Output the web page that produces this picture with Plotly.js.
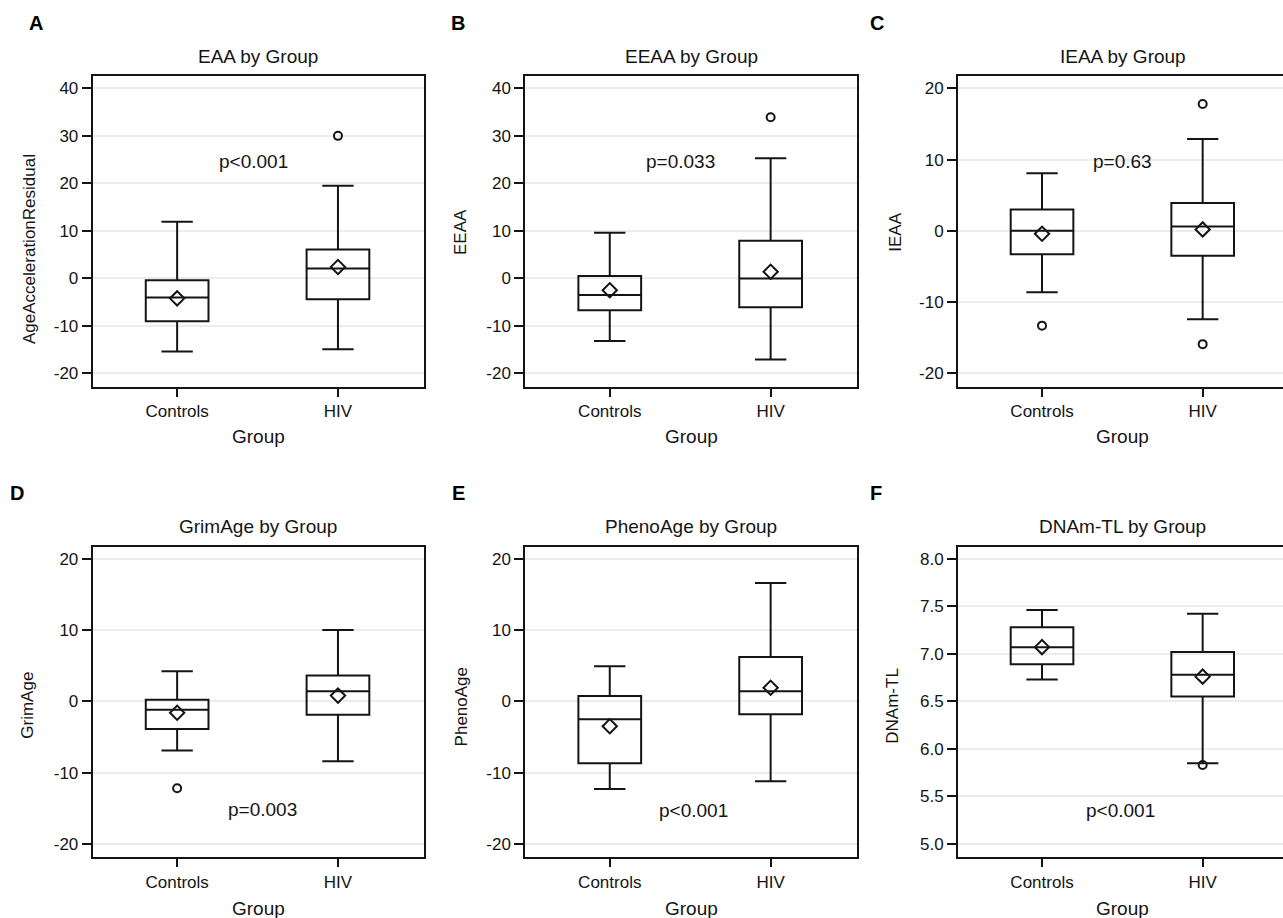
<!DOCTYPE html>
<html>
<head>
<meta charset="utf-8">
<script src="https://cdn.plot.ly/plotly-3.0.1.min.js"></script>
<style>html,body{margin:0;padding:0;background:#fff;}#chart{width:1283px;height:918px;}</style>
</head>
<body>
<div id="chart"></div>
<script>
// ---------- data ----------
const groups = ['Controls', 'HIV'];

// A: EAA
const eaaQ1 = [-9.0, -4.4];
const eaaMedian = [-4.0, 2.1];
const eaaQ3 = [-0.4, 6.1];
const eaaLow = [-15.4, -14.9];
const eaaHigh = [11.9, 19.5];
const eaaMean = [-4.2, 2.4];
const eaaOutGroup = ['HIV'];
const eaaOutValue = [30.0];

// B: EEAA
const eeaaQ1 = [-6.7, -6.1];
const eeaaMedian = [-3.5, 0.0];
const eeaaQ3 = [0.5, 7.9];
const eeaaLow = [-13.2, -17.1];
const eeaaHigh = [9.6, 25.3];
const eeaaMean = [-2.5, 1.4];
const eeaaOutGroup = ['HIV'];
const eeaaOutValue = [33.9];

// C: IEAA
const ieaaQ1 = [-3.3, -3.5];
const ieaaMedian = [0.0, 0.6];
const ieaaQ3 = [3.0, 3.9];
const ieaaLow = [-8.6, -12.4];
const ieaaHigh = [8.1, 12.9];
const ieaaMean = [-0.4, 0.2];
const ieaaOutGroup = ['Controls', 'HIV', 'HIV'];
const ieaaOutValue = [-13.3, 17.8, -15.9];

// D: GrimAge
const grimQ1 = [-3.9, -1.9];
const grimMedian = [-1.2, 1.4];
const grimQ3 = [0.2, 3.6];
const grimLow = [-6.9, -8.4];
const grimHigh = [4.2, 10.0];
const grimMean = [-1.6, 0.8];
const grimOutGroup = ['Controls'];
const grimOutValue = [-12.2];

// E: PhenoAge
const phenoQ1 = [-8.7, -1.8];
const phenoMedian = [-2.5, 1.4];
const phenoQ3 = [0.75, 6.2];
const phenoLow = [-12.3, -11.2];
const phenoHigh = [4.9, 16.6];
const phenoMean = [-3.5, 1.9];
const phenoOutGroup = [];
const phenoOutValue = [];

// F: DNAm-TL
const tlQ1 = [6.89, 6.55];
const tlMedian = [7.07, 6.78];
const tlQ3 = [7.28, 7.02];
const tlLow = [6.73, 5.85];
const tlHigh = [7.46, 7.42];
const tlMean = [7.07, 6.76];
const tlOutGroup = ['HIV'];
const tlOutValue = [5.83];

// tick labels (hyphen minus as in the original)
const ticksWideVals = [-20, -10, 0, 10, 20, 30, 40];
const ticksWideText = ['-20', '-10', '0', '10', '20', '30', '40'];
const ticksNarrowVals = [-20, -10, 0, 10, 20];
const ticksNarrowText = ['-20', '-10', '0', '10', '20'];
const ticksTLVals = [5.0, 5.5, 6.0, 6.5, 7.0, 7.5, 8.0];
const ticksTLText = ['5.0', '5.5', '6.0', '6.5', '7.0', '7.5', '8.0'];

const panelLetters = ['A', 'B', 'C', 'D', 'E', 'F'];
const panelTitles = ['EAA by Group', 'EEAA by Group', 'IEAA by Group', 'GrimAge by Group', 'PhenoAge by Group', 'DNAm-TL by Group'];
const yTitles = ['AgeAccelerationResidual', 'EEAA', 'IEAA', 'GrimAge', 'PhenoAge', 'DNAm-TL'];
const xTitle = 'Group';
const pTexts = ['p<0.001', 'p=0.033', 'p=0.63', 'p=0.003', 'p<0.001', 'p<0.001'];

const panels = [
  {q1: eaaQ1, med: eaaMedian, q3: eaaQ3, lo: eaaLow, hi: eaaHigh, mean: eaaMean, og: eaaOutGroup, ov: eaaOutValue, tv: ticksWideVals, tt: ticksWideText},
  {q1: eeaaQ1, med: eeaaMedian, q3: eeaaQ3, lo: eeaaLow, hi: eeaaHigh, mean: eeaaMean, og: eeaaOutGroup, ov: eeaaOutValue, tv: ticksWideVals, tt: ticksWideText},
  {q1: ieaaQ1, med: ieaaMedian, q3: ieaaQ3, lo: ieaaLow, hi: ieaaHigh, mean: ieaaMean, og: ieaaOutGroup, ov: ieaaOutValue, tv: ticksNarrowVals, tt: ticksNarrowText},
  {q1: grimQ1, med: grimMedian, q3: grimQ3, lo: grimLow, hi: grimHigh, mean: grimMean, og: grimOutGroup, ov: grimOutValue, tv: ticksNarrowVals, tt: ticksNarrowText},
  {q1: phenoQ1, med: phenoMedian, q3: phenoQ3, lo: phenoLow, hi: phenoHigh, mean: phenoMean, og: phenoOutGroup, ov: phenoOutValue, tv: ticksNarrowVals, tt: ticksNarrowText},
  {q1: tlQ1, med: tlMedian, q3: tlQ3, lo: tlLow, hi: tlHigh, mean: tlMean, og: tlOutGroup, ov: tlOutValue, tv: ticksTLVals, tt: ticksTLText}
];

// ---------- layout geometry ----------
const W = 1283, H = 918;
const fx = v => v / W;
const fy = v => 1 - v / H;
const colPx = [[92.7, 424], [525.3, 856.7], [958, 1283]];
const rowPx = [[76, 386.7], [547.3, 857.3]];
const xRanges = [[-0.525, 1.535], [-0.525, 1.535], [-0.523, 1.5]];
const yRanges = [[-22.8, 42.6], [-22.8, 42.6], [-21.87, 21.73], [-21.87, 21.59], [-21.87, 21.59], [4.86, 8.12]];
const pPos = [[0.475, 24.6], [0.442, 24.6], [0.498, 9.7], [0.53, -15.2], [0.52, -15.3], [0.49, 5.35]];
const letterPos = [[36, 23], [458, 23], [877, 23], [17, 493], [458, 493], [876, 493]];
const yTitlePos = [[30, 249], [460, 232], [894.7, 232], [28, 705.7], [461.7, 706.7], [893, 705.7]];
const titleCenters = [258.4, 691, 1122.5];
const titleY = [56, 526.7];
const xTitleY = [436.7, 908];

const ink = '#141414';
const fontFam = 'Liberation Sans, Arial, Helvetica, sans-serif';

const data = [];
const layout = {
  width: W, height: H,
  margin: {l: 0, r: 0, t: 0, b: 0},
  paper_bgcolor: '#ffffff',
  plot_bgcolor: '#ffffff',
  showlegend: false,
  font: {family: fontFam, color: ink},
  annotations: []
};

panels.forEach((p, i) => {
  const n = i + 1;
  const col = i % 3, row = Math.floor(i / 3);
  const xa = 'x' + (n === 1 ? '' : n), ya = 'y' + (n === 1 ? '' : n);
  const xk = 'xaxis' + (n === 1 ? '' : n), yk = 'yaxis' + (n === 1 ? '' : n);

  layout[xk] = {
    domain: [fx(colPx[col][0]), fx(colPx[col][1])],
    anchor: ya,
    type: 'category',
    categoryorder: 'array',
    categoryarray: groups,
    range: xRanges[col],
    ticks: 'outside', ticklen: 8, tickwidth: 2, tickcolor: ink,
    showline: true, linewidth: 2, linecolor: ink, mirror: true,
    showgrid: false, zeroline: false,
    tickfont: {size: 17, color: ink, family: fontFam},
    fixedrange: true
  };
  layout[yk] = {
    domain: [fy(rowPx[row][1]), fy(rowPx[row][0])],
    anchor: xa,
    range: yRanges[i],
    tickmode: 'array',
    tickvals: p.tv,
    ticktext: p.tt,
    ticks: 'outside', ticklen: 9, tickwidth: 2, tickcolor: ink,
    showline: true, linewidth: 2, linecolor: ink, mirror: col !== 2,
    showgrid: true, gridcolor: '#ececec', gridwidth: 2,
    zeroline: false,
    tickfont: {size: 17, color: ink, family: fontFam},
    fixedrange: true
  };

  data.push({
    type: 'box', xaxis: xa, yaxis: ya,
    x: groups,
    q1: p.q1, median: p.med, q3: p.q3,
    lowerfence: p.lo, upperfence: p.hi,
    boxpoints: false,
    width: 0.39, whiskerwidth: 0.5,
    fillcolor: 'rgba(0,0,0,0)',
    line: {color: ink, width: 2},
    hoverinfo: 'skip'
  });
  data.push({
    type: 'scatter', mode: 'markers', xaxis: xa, yaxis: ya,
    x: groups, y: p.mean,
    marker: {symbol: 'diamond-open', size: 11, color: ink, line: {width: 2, color: ink}},
    hoverinfo: 'skip'
  });
  if (p.og.length) {
    data.push({
      type: 'scatter', mode: 'markers', xaxis: xa, yaxis: ya,
      x: p.og, y: p.ov,
      marker: {symbol: 'circle-open', size: 8, color: ink, line: {width: 2, color: ink}},
      hoverinfo: 'skip'
    });
  }

  // p value
  layout.annotations.push({
    xref: xa, yref: ya, x: pPos[i][0], y: pPos[i][1],
    text: pTexts[i], showarrow: false, xanchor: 'center', yanchor: 'middle',
    font: {size: 19, color: ink, family: fontFam}
  });
  // panel letter
  layout.annotations.push({
    xref: 'paper', yref: 'paper', x: fx(letterPos[i][0]), y: fy(letterPos[i][1]),
    text: '<b>' + panelLetters[i] + '</b>', showarrow: false, xanchor: 'center', yanchor: 'middle',
    font: {size: 20, color: '#000', family: fontFam}
  });
  // panel title
  layout.annotations.push({
    xref: 'paper', yref: 'paper', x: fx(titleCenters[col]), y: fy(titleY[row]),
    text: panelTitles[i], showarrow: false, xanchor: 'center', yanchor: 'middle',
    font: {size: 19, color: ink, family: fontFam}
  });
  // y title
  layout.annotations.push({
    xref: 'paper', yref: 'paper', x: fx(yTitlePos[i][0]), y: fy(yTitlePos[i][1]),
    text: yTitles[i], showarrow: false, textangle: -90, xanchor: 'center', yanchor: 'middle',
    font: {size: 17, color: ink, family: fontFam}
  });
  // x title
  layout.annotations.push({
    xref: 'paper', yref: 'paper', x: fx(titleCenters[col]), y: fy(xTitleY[row]),
    text: xTitle, showarrow: false, xanchor: 'center', yanchor: 'middle',
    font: {size: 19, color: ink, family: fontFam}
  });
});

Plotly.newPlot('chart', data, layout, {staticPlot: true, displayModeBar: false});
</script>
</body>
</html>
